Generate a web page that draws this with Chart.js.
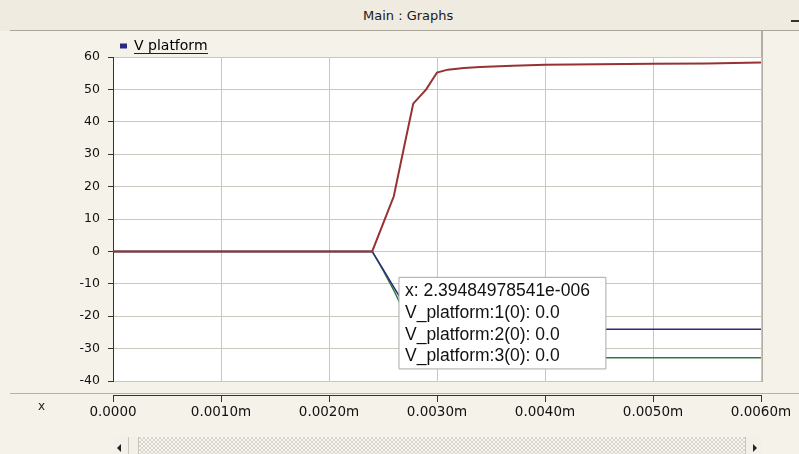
<!DOCTYPE html>
<html>
<head>
<meta charset="utf-8">
<title>Main : Graphs</title>
<script src="https://cdn.jsdelivr.net/npm/chart.js@4.4.1/dist/chart.umd.min.js"></script>
<style>
  html, body { margin: 0; padding: 0; }
  body {
    width: 799px; height: 454px; overflow: hidden; position: relative;
    background: #f5f2ea; font-family: "DejaVu Sans", sans-serif;
  }
  #titlebar { position: absolute; left: 0; top: 0; width: 799px; height: 31px; background: #efebe1; }
  #titlebar .rule { position: absolute; left: 10px; right: 0; bottom: 0; height: 1px; background: #aaa69c; }
  #title { position: absolute; left: 363px; top: 8px; font-size: 13px; color: #1a1a1a; white-space: nowrap; }
  #minbtn { position: absolute; left: 791px; top: 20px; width: 8px; height: 2px; background: #333; }
  #chart { position: absolute; left: 0; top: 0; }
  #xname { position: absolute; left: 38px; top: 399px; font-size: 12px; color: #222; }
  #scroll {
    position: absolute; left: 113px; top: 437px; width: 649px; height: 17px;
    background-color: #f2efe8;
    background-image: repeating-conic-gradient(#d8d5cc 0 25%, #f8f6f1 0 50%);
    background-size: 4px 4px;
  }
  #scroll .btn { position: absolute; top: 0; height: 17px; background: #f3f0e9; }
  #scroll .left { left: 0; width: 15px; border-right: 1px solid #c9c5bb; }
  #scroll .thumb { left: 16px; width: 9px; border-right: 1px solid #c9c5bb; }
  #scroll .right { right: 0; width: 16px; border-left: 1px solid #c9c5bb; }
  #scroll .arrow-l { position: absolute; left: 4px; top: 7px; width: 0; height: 0;
    border-top: 4px solid transparent; border-bottom: 4px solid transparent; border-right: 4px solid #222; }
  #scroll .arrow-r { position: absolute; left: 7px; top: 7px; width: 0; height: 0;
    border-top: 4px solid transparent; border-bottom: 4px solid transparent; border-left: 4px solid #222; }
</style>
</head>
<body>
<div id="titlebar"><div class="rule"></div><div id="title">Main : Graphs</div><div id="minbtn"></div></div>
<canvas id="chart" width="799" height="454"></canvas>
<div id="xname">x</div>
<div id="scroll">
  <div class="btn left"><div class="arrow-l"></div></div>
  <div class="btn thumb"></div>
  <div class="btn right"><div class="arrow-r"></div></div>
</div>
<script>
// Sample times (s) and platform voltages for the three channels
const timeSec = [0, 2.39484978541e-6, 0.0024, 0.0025, 0.0026, 0.0027, 0.00278, 0.0029, 0.0030,
                 0.0031, 0.00325, 0.0034, 0.0037, 0.0040, 0.0045, 0.0050, 0.0055, 0.0060];
const platform1 = [0, 0, 0, 8.5, 17, 33, 45.6, 50, 55.2,
                   56.1, 56.6, 56.9, 57.3, 57.6, 57.8, 57.9, 58.0, 58.3];
const platform2 = [0, 0, 0, -5.5, -11, -16.5, -20, -22.5, -23.4,
                   -23.8, -24, -24, -24, -24, -24, -24, -24, -24];
const platform3 = [0, 0, 0, -5.8, -12, -19, -24.5, -29.5, -31.8,
                   -32.5, -32.8, -32.8, -32.8, -32.8, -32.8, -32.8, -32.8, -32.8];

const seriesNames = ['V_platform:1(0)', 'V_platform:2(0)', 'V_platform:3(0)'];
const legendName = 'V platform';
const xTickLabels = ['0.0000', '0.0010m', '0.0020m', '0.0030m', '0.0040m', '0.0050m', '0.0060m'];

// Readout box shows every channel at this sample
const readoutIndex = 1;
// Where the readout box is pinned, in axis units
const readoutAt = { x: 0.002648, y: -8 };

const points = ys => ys.map((y, i) => ({ x: timeSec[i], y }));

// C-style exponent, e.g. 2.39484978541e-006
function cExp(v) {
  const [m, e] = v.toExponential(11).split('e');
  const sign = e[0] === '-' ? '-' : '+';
  return m + 'e' + sign + e.replace(/[+-]/, '').padStart(3, '0');
}

const TooltipPlugin = Chart.Tooltip || Chart.registry.plugins.get('tooltip');
TooltipPlugin.positioners.pinned = function () {
  const s = this.chart.scales;
  return { x: s.x.getPixelForValue(readoutAt.x), y: s.y.getPixelForValue(readoutAt.y) };
};

const gridColor = '#cbc7bc';
const axisColor = '#333333';

const frame = {
  id: 'frame',
  beforeDraw(chart) {
    const { ctx, chartArea: a } = chart;
    ctx.save();
    ctx.fillStyle = '#ffffff';
    ctx.fillRect(a.left, a.top, a.right - a.left, a.bottom - a.top + 1);
    ctx.fillStyle = '#b2aea4';
    ctx.fillRect(a.right, 31, 2, a.bottom - 31 + 1);
    ctx.restore();
  },
  afterDraw(chart) {
    const { ctx, chartArea: a, scales: { x } } = chart;
    ctx.save();
    // time ruler under the plot
    ctx.fillStyle = '#b6b2a8';
    ctx.fillRect(10, 393, chart.width - 10, 1);
    ctx.fillStyle = axisColor;
    ctx.fillRect(a.left, 395, a.right - a.left + 1, 1);
    x.ticks.forEach(t => {
      const px = Math.round(x.getPixelForValue(t.value));
      ctx.fillRect(px, 395, 1, 7);
    });
    // underline the legend caption
    const hb = chart.legend && chart.legend.legendHitBoxes && chart.legend.legendHitBoxes[0];
    if (hb) {
      const lab = chart.options.plugins.legend.labels;
      const x0 = hb.left + lab.boxWidth + lab.font.size / 2;
      ctx.fillStyle = '#222';
      ctx.fillRect(Math.round(x0), Math.round(hb.top + hb.height), Math.round(hb.left + hb.width - x0), 1);
    }
    ctx.restore();
  }
};

const chart = new Chart(document.getElementById('chart'), {
  type: 'line',
  data: {
    datasets: [
      { label: seriesNames[0], data: points(platform1), borderColor: '#963232', borderWidth: 2 },
      { label: seriesNames[1], data: points(platform2), borderColor: '#2b2b7c' },
      { label: seriesNames[2], data: points(platform3), borderColor: '#2f7a3a' }
    ]
  },
  options: {
    responsive: false,
    animation: false,
    events: [],
    layout: { padding: { top: 32, right: 38, bottom: 33, left: 0 } },
    elements: {
      line: { borderWidth: 1.5, tension: 0, fill: false },
      point: { radius: 0, hoverRadius: 0 }
    },
    scales: {
      x: {
        type: 'linear', min: 0, max: 0.006,
        afterFit: s => { s.height = 40; },
        ticks: {
          stepSize: 0.001, autoSkip: false, maxRotation: 0, padding: 0,
          color: '#111', font: { family: 'DejaVu Sans', size: 13.5 },
          callback: (v, i) => xTickLabels[i]
        },
        // the visible tick marks sit on the ruler below; this only spaces the labels
        grid: { color: gridColor, drawTicks: true, tickLength: 23, tickColor: 'rgba(0,0,0,0)' },
        border: { display: false }
      },
      y: {
        min: -40, max: 60,
        afterFit: s => { s.width = 113; },
        ticks: {
          stepSize: 10, padding: 8,
          color: '#111', font: { family: 'DejaVu Sans', size: 12.5 }
        },
        grid: { color: gridColor, tickColor: axisColor, tickLength: 5 },
        border: { display: true, color: axisColor, width: 1 }
      }
    },
    plugins: {
      legend: {
        display: true, position: 'top', align: 'start', fullSize: false, maxHeight: 25,
        labels: {
          boxWidth: 7, boxHeight: 5, padding: 7, color: '#111',
          font: { family: 'DejaVu Sans', size: 14 },
          generateLabels: () => [{
            text: legendName, fillStyle: '#2a2a86', strokeStyle: '#2a2a86',
            lineWidth: 0, hidden: false, datasetIndex: 0
          }]
        }
      },
      tooltip: {
        enabled: true,
        position: 'pinned', xAlign: 'left', yAlign: 'top',
        caretSize: 0, caretPadding: 0, cornerRadius: 0,
        backgroundColor: '#ffffff', borderColor: '#a9a9a9', borderWidth: 1,
        titleColor: '#111', bodyColor: '#111', displayColors: false,
        titleFont: { family: 'Liberation Sans', size: 17.5, weight: 'normal', lineHeight: 1 },
        bodyFont: { family: 'Liberation Sans', size: 17.5, weight: 'normal', lineHeight: 1 },
        titleMarginBottom: 5, bodySpacing: 3.8,
        padding: { top: 5, bottom: 4, left: 6, right: 16 },
        callbacks: {
          title: items => 'x: ' + cExp(items[0].parsed.x),
          label: item => item.dataset.label + ': ' + item.parsed.y.toFixed(1)
        }
      }
    }
  },
  plugins: [frame]
});

const s = chart.scales;
chart.tooltip.setActiveElements(
  seriesNames.map((_, d) => ({ datasetIndex: d, index: readoutIndex })),
  { x: s.x.getPixelForValue(readoutAt.x), y: s.y.getPixelForValue(readoutAt.y) }
);
chart.update();
</script>
</body>
</html>
